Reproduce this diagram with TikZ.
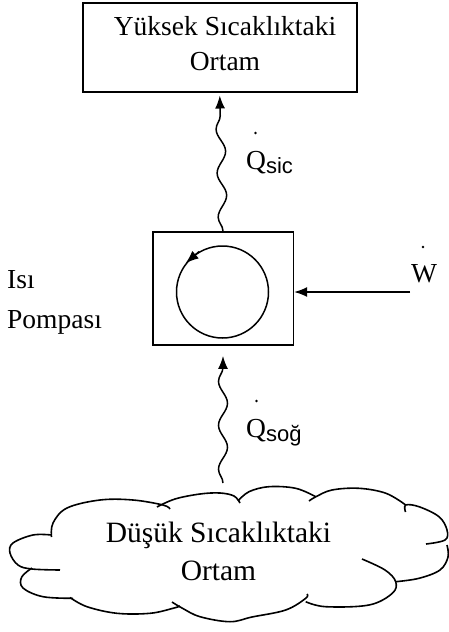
\documentclass[tikz,border=0pt]{standalone}
\usepackage{fontspec}
\setmainfont{Liberation Serif}
\setsansfont{Liberation Sans}
\usetikzlibrary{arrows.meta,decorations.pathmorphing}
\tikzset{
  boxnode/.style={draw,line width=1.6pt,rectangle,inner sep=0pt},
  bigtxt/.style={font=\fontsize{27.5}{35}\selectfont,align=center,inner sep=0pt},
  lbl/.style={font=\fontsize{27.5}{30}\selectfont,inner sep=0pt},
  wavy/.style={line width=1.5pt,-{Latex[length=13pt,width=10pt]},
    decorate,decoration={snake,amplitude=4.5pt,segment length=44pt,post length=12pt}},
  puff/.style={line width=1.6pt,smooth,tension=0.6},
  tip/.style={-{Latex[length=13pt,width=10pt]}}
}
\newcommand{\subsf}[1]{\raisebox{-4pt}{\sffamily\fontsize{22}{24}\selectfont #1}}
\begin{document}
\begin{tikzpicture}[x=1pt,y=-1pt]
\useasboundingbox[fill=white] (0,0) rectangle (449,632);
% top box
\node[boxnode,minimum width=274pt,minimum height=89pt] (hot) at (219.7,47.2) {};
\node[bigtxt] (hottxt) at (225,44) {Yüksek Sıcaklıktaki\\Ortam};
% pump
\node[boxnode,minimum width=140.6pt,minimum height=113.3pt] (pump) at (223,288.4) {};
\node[draw,circle,line width=1.5pt,minimum size=92pt,inner sep=0pt] (cyc) at (222.5,292) {};
\draw[line width=1.5pt,tip] (cyc.120) -- (cyc.142);
% left label
\node[lbl,anchor=base west] (isi) at (7,288) {Isı};
\node[lbl,anchor=base west] (pompasi) at (7,328) {Pompası};
% W
\node[lbl,anchor=base west] (w) at (411,282) {W};
\fill (423,247) circle (1.3);
\coordinate (wstart) at (410,292);
\draw[line width=1.5pt,tip] (wstart) -- (wstart -| pump.east);
% Q sic
\node[lbl,anchor=base west] (qsic) at (246,169) {Q\subsf{sic}};
\fill (255.5,133) circle (1.3);
% Q sog
\node[lbl,anchor=base west] (qsog) at (246,437) {Q\subsf{soğ}};
\fill (256.5,401) circle (1.3);
% wavy arrows
\draw[wavy,shorten >=3pt] (pump.north) -- (hot.south);
\coordinate (cloudtop) at (223,483);
\draw[wavy,shorten >=10pt] (cloudtop) -- (pump.south);
% cloud
\draw[puff] plot coordinates {(170,509) (163,505) (133,500) (100,500) (67,508) (53,523) (51.5,537)};
\draw[puff] plot coordinates {(51.5,535) (33,535) (13,543) (10,553) (18,565) (32,569) (60,570)};
\draw[puff] plot coordinates {(32,568) (21.7,577) (23,588) (43,596.7) (73,598.3)};
\draw[puff] plot coordinates {(70,597.5) (87,606.7) (117,613.3) (150,613.3) (173,608.3) (180,606)};
\draw[puff] plot coordinates {(172,602) (182,608) (200,616.7) (230,621.7) (252,617) (285.7,610) (305.7,598.3) (307,594)};
\draw[puff] plot coordinates {(305.7,601.7) (325.7,606.7) (369,605) (392.3,593.3) (395.7,581.7) (385,570) (362,559)};
\draw[puff] plot coordinates {(395.7,581.7) (419,578.3) (440,570) (448,557) (447,545)};
\draw[puff] plot coordinates {(405.5,512) (405.7,505) (419,506.7) (439,516.7) (447,530) (445,540) (426,544)};
\draw[puff] plot coordinates {(309,501) (316,496.7) (332,490) (359,488.3) (386,493.3) (405.7,505)};
\draw[puff] plot coordinates {(238,501) (249,491.7) (269,486.7) (295.7,488.3) (315.7,496.7)};
\draw[puff] plot coordinates {(240,503) (234,496) (220,493) (200,494) (175,499) (157,507)};
\node[font=\fontsize{29.5}{38}\selectfont,align=center,inner sep=0pt] (cold) at (218.5,551) {Düşük Sıcaklıktaki\\Ortam};
\end{tikzpicture}
\end{document}
